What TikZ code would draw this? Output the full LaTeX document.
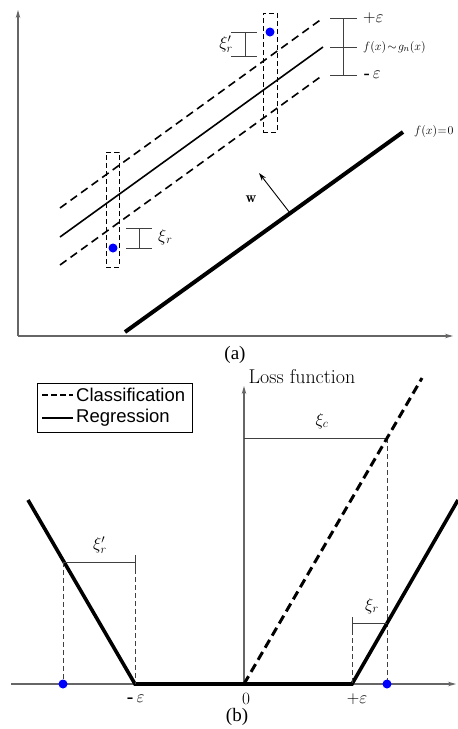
\documentclass[tikz,border=0pt]{standalone}
\usepackage{fontspec}
\newfontfamily\capfont{Liberation Serif}
\newfontfamily\legfont{Liberation Sans}
\usetikzlibrary{arrows.meta}
\begin{document}
\begin{tikzpicture}[x=1pt,y=-1pt,
  axisln/.style={draw=black!60, line width=1.1pt, -{Stealth[length=8pt,width=4.5pt]}},
  thinln/.style={draw=black!75, line width=0.9pt},
  thindash/.style={draw=black!75, line width=0.9pt, dash pattern=on 5pt off 3pt},
  dashln/.style={draw=black, line width=1.6pt, dash pattern=on 8pt off 5pt},
  solidln/.style={draw=black, line width=1.6pt},
  thickln/.style={draw=black, line width=4pt},
  thickdash/.style={draw=black, line width=3pt, dash pattern=on 9pt off 5pt},
  regln/.style={draw=black, line width=3.6pt, line join=miter},
  boxln/.style={draw=black, line width=0.9pt, dash pattern=on 5pt off 3pt},
  bdot/.style={circle, fill=blue, inner sep=0pt, minimum size=9pt},
  lab/.style={inner sep=0pt},
  xilab/.style={inner sep=0pt, font=\fontsize{17}{19}\selectfont},
  wvec/.style={draw=black, line width=0.9pt, -{Stealth[length=8pt,width=5pt]}}
]
\useasboundingbox (0,0) rectangle (458,729);

% ---------------- panel (a) ----------------
\coordinate (aO) at (18,336);
\coordinate (aY) at (18,10);
\coordinate (aX) at (453,336);
\draw[axisln] (aO) -- (aY);
\draw[axisln] (aO) -- (aX);

\coordinate (uL) at (60,208); \coordinate (uR) at (323,18);
\coordinate (sL) at (60,237); \coordinate (sR) at (323,47);
\coordinate (lL) at (60,265); \coordinate (lR) at (323,75);
\draw[dashln] (uL) -- (uR);
\draw[solidln] (sL) -- (sR);
\draw[dashln] (lL) -- (lR);

\coordinate (tA) at (125,332); \coordinate (tB) at (403,132);
\draw[thickln] (tA) -- (tB);
\node[lab, anchor=west, font=\fontsize{12}{14}\selectfont] (fzero) at (414,131) {$f(x)\mskip-4mu=\mskip-4mu0$};

\coordinate (wS) at (290,213); \coordinate (wE) at (259,173);
\draw[wvec] (wS) -- (wE);
\node[lab, font=\fontsize{15}{17}\selectfont] (wlab) at (251,199) {$\mathbf{w}$};

% dashed boxes and points
\node[boxln, minimum width=14pt, minimum height=119pt, inner sep=0pt] (boxU) at (270,72.5) {};
\node[boxln, minimum width=13pt, minimum height=115pt, inner sep=0pt] (boxL) at (112.5,209.5) {};
\node[bdot] (pU) at (270,32) {};
\node[bdot] (pL) at (113,248) {};

% xi_r bar (lower)
\coordinate (xa1) at (126,228); \coordinate (xa2) at (152,228);
\coordinate (xb1) at (126,248); \coordinate (xb2) at (152,248);
\coordinate (xv1) at (139,228); \coordinate (xv2) at (139,248);
\draw[thinln] (xa1) -- (xa2);
\draw[thinln] (xb1) -- (xb2);
\draw[thinln] (xv1) -- (xv2);
\node[xilab, anchor=west] (xirA) at (158,237) {$\xi_{\!\:r}$};

% xi'_r bar (upper)
\coordinate (ya1) at (231,32); \coordinate (ya2) at (257,32);
\coordinate (yb1) at (231,56); \coordinate (yb2) at (257,56);
\coordinate (yv1) at (245,32); \coordinate (yv2) at (245,56);
\draw[thinln] (ya1) -- (ya2);
\draw[thinln] (yb1) -- (yb2);
\draw[thinln] (yv1) -- (yv2);
\node[xilab, anchor=east] (xirpA) at (233,44) {$\xi_r'$};

% epsilon tube bar (right)
\coordinate (ev1) at (343,18); \coordinate (ev2) at (343,75);
\coordinate (et1) at (330,18); \coordinate (et2) at (357,18);
\coordinate (em1) at (330,47); \coordinate (em2) at (357,47);
\coordinate (eb1) at (330,75); \coordinate (eb2) at (357,75);
\draw[thinln] (ev1) -- (ev2);
\draw[thinln] (et1) -- (et2);
\draw[thinln] (em1) -- (em2);
\draw[thinln] (eb1) -- (eb2);
\node[lab, anchor=west, font=\fontsize{16}{18}\selectfont] (pe) at (363,18) {$+\varepsilon$};
\node[lab, anchor=west, font=\fontsize{13}{15}\selectfont] (fg) at (363,47) {$f(x)\!\sim\! g_n(x)$};
\node[lab, anchor=west, font=\fontsize{16}{18}\selectfont] (me) at (364,75) {\textbf{-}\,$\varepsilon$};

\node[lab, font=\fontsize{19}{21}\selectfont\capfont] (capA) at (235,355) {(a)};

% ---------------- panel (b) ----------------
\coordinate (bO) at (244,684);
\coordinate (bXl) at (11,684);
\coordinate (bXr) at (456,684);
\coordinate (bY) at (244,386);
\draw[axisln] (bXl) -- (bXr);
\draw[axisln] (bO) -- (bY);
\node[lab, font=\fontsize{20}{22}\selectfont] (lossf) at (302,377) {Loss function};

% legend
\node[draw=black, line width=0.9pt, minimum width=155pt, minimum height=49pt, inner sep=0pt] (leg) at (114.5,407.5) {};
\coordinate (lg1a) at (42,395); \coordinate (lg1b) at (73,395);
\coordinate (lg2a) at (42,418); \coordinate (lg2b) at (73,418);
\draw[draw=black, line width=2.2pt, dash pattern=on 6pt off 3pt] (lg1a) -- (lg1b);
\draw[draw=black, line width=2.2pt] (lg2a) -- (lg2b);
\node[lab, anchor=west, font=\fontsize{18.5}{20}\selectfont\legfont] (legC) at (76,395) {Classification};
\node[lab, anchor=west, font=\fontsize{18.5}{20}\selectfont\legfont] (legR) at (76,418) {Regression};

% classification
\coordinate (cTop) at (422,378);
\coordinate (cH) at (387,438);
\coordinate (cHl) at (244,438);
\coordinate (cB) at (387,684);
\draw[thinln] (cHl) -- (cH);
\draw[thindash] (cH) -- (cB);
\draw[thickdash] (bO) -- (cTop);
\node[xilab] (xic) at (322,421) {$\xi_c$};

% regression
\coordinate (rL) at (28,500);
\coordinate (rme) at (135,684);
\coordinate (rpe) at (352,684);
\coordinate (rR) at (458,500);
\draw[regln] (rL) -- (rme) -- (rpe) -- (rR);

% xi'_r left
\coordinate (lh1) at (63,562); \coordinate (lh2) at (135,562);
\coordinate (lt1) at (135,555); \coordinate (lt2) at (135,569);
\coordinate (ld1) at (63,684);
\draw[thinln] (lh1) -- (lh2);
\draw[thinln] (lt1) -- (lt2);
\draw[thindash] (lh1) -- (ld1);
\draw[thindash] (lt2) -- (rme);
\node[xilab] (xirpB) at (100,545) {$\xi_r'$};

% xi_r right
\coordinate (rh1) at (352,623); \coordinate (rh2) at (387,623);
\coordinate (rt1) at (352,617); \coordinate (rt2) at (352,630);
\draw[thinln] (rh1) -- (rh2);
\draw[thinln] (rt1) -- (rt2);
\draw[thindash] (rt2) -- (rpe);
\node[xilab] (xirB) at (372,606) {$\xi_r$};

\node[bdot] (pB1) at (63,684) {};
\node[bdot] (pB2) at (387,684) {};

\node[lab, font=\fontsize{17}{19}\selectfont] (lme) at (136,699) {\textbf{-}\,$\varepsilon$};
\node[lab, font=\fontsize{17}{19}\selectfont] (lzero) at (246,699) {$0$};
\node[lab, font=\fontsize{17}{19}\selectfont] (lpe) at (357,699) {$+\varepsilon$};

\node[lab, font=\fontsize{19}{21}\selectfont\capfont] (capB) at (237,717) {(b)};
\end{tikzpicture}
\end{document}
